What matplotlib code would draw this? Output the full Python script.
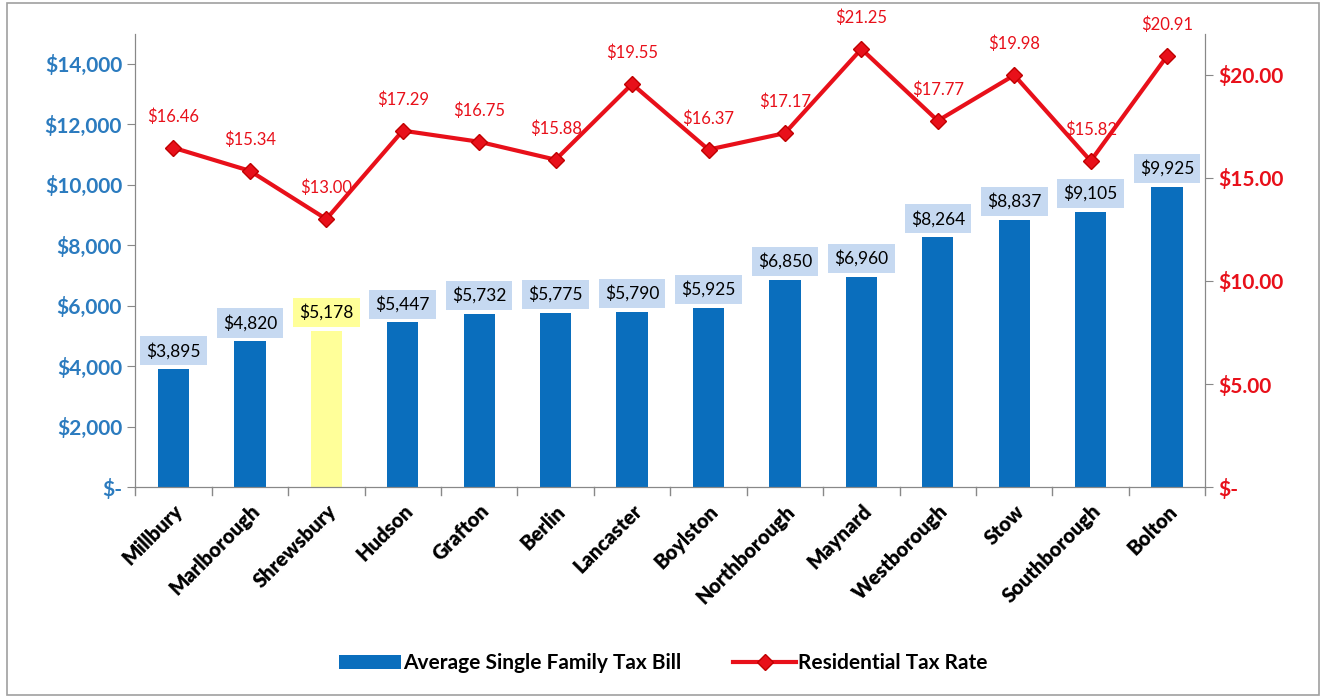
import numpy as np
import matplotlib.pyplot as plt
from matplotlib.ticker import FuncFormatter

plt.rcParams['font.family'] = ['Lato', 'DejaVu Sans']

# Data
towns = ['Millbury', 'Marlborough', 'Shrewsbury', 'Hudson', 'Grafton', 'Berlin',
         'Lancaster', 'Boylston', 'Northborough', 'Maynard', 'Westborough', 'Stow',
         'Southborough', 'Bolton']
tax_bill = [3895, 4820, 5178, 5447, 5732, 5775, 5790, 5925, 6850, 6960, 8264, 8837,
            9105, 9925]
tax_rate = [16.46, 15.34, 13.00, 17.29, 16.75, 15.88, 19.55, 16.37, 17.17, 21.25,
            17.77, 19.98, 15.82, 20.91]
highlight = 'Shrewsbury'

blue = '#0a6ebd'
red = '#e8101a'
label_blue = '#2b7bbf'

fig = plt.figure(figsize=(13.26, 6.98), dpi=100)
# outer border like the original chart area
fig.patches.append(plt.Rectangle((0.005, 0.005), 0.99, 0.99, transform=fig.transFigure,
                                 fill=False, edgecolor='#a0a0a0', linewidth=1.2))
ax = fig.add_axes([0.102, 0.302, 0.807, 0.65])
ax2 = ax.twinx()

x = np.arange(len(towns))
colors = ['#ffff99' if t == highlight else blue for t in towns]
ax.bar(x, tax_bill, width=0.41, color=colors, zorder=2,
       label='Average Single Family Tax Bill')

ax.set_ylim(0, 15000)
ax.set_xlim(-0.5, len(towns) - 0.5)
ax.set_yticks(np.arange(0, 15000, 2000))
ax.yaxis.set_major_formatter(FuncFormatter(
    lambda v, p: '$-' if v == 0 else '${:,.0f}'.format(v)))
ax.set_xticks(x)
ax.set_xticklabels(towns, rotation=45, ha='right', rotation_mode='anchor',
                   fontsize=14.5, fontweight='heavy')
ax.tick_params(axis='y', labelsize=15, labelcolor=label_blue, length=6, color='#888888')
ax.tick_params(axis='x', length=0, pad=10)
for lbl in ax.get_yticklabels():
    lbl.set_fontweight('bold')

for i, v in enumerate(tax_bill):
    fc = '#ffff99' if towns[i] == highlight else '#c6d9f1'
    ax.text(i, v + 330, '${:,.0f}'.format(v), ha='center', va='bottom', fontsize=12.5,
            color='black', zorder=3,
            bbox=dict(boxstyle='square,pad=0.35', facecolor=fc, edgecolor='none'))

ax2.plot(x, tax_rate, color=red, linewidth=3, marker='D', markersize=8,
         markerfacecolor=red, markeredgecolor='#c00000', zorder=4,
         label='Residential Tax Rate')
ax2.set_ylim(0, 22)
ax2.set_yticks(np.arange(0, 21, 5))
ax2.yaxis.set_major_formatter(FuncFormatter(
    lambda v, p: '$-' if v == 0 else '${:,.2f}'.format(v)))
ax2.tick_params(axis='y', labelsize=15, labelcolor=red, length=6, color='#888888')
for lbl in ax2.get_yticklabels():
    lbl.set_fontweight('bold')

for i, v in enumerate(tax_rate):
    ax2.text(i, v + 1.1, '${:.2f}'.format(v), ha='center', va='bottom', fontsize=12,
             color=red)

for a in (ax, ax2):
    a.spines['top'].set_visible(False)
    for s in ('left', 'right', 'bottom'):
        a.spines[s].set_color('#888888')
    a.set_zorder(1)
ax2.set_zorder(2)
ax.patch.set_visible(False)

# category separators on x axis
for xi in np.arange(-0.5, len(towns), 1.0):
    ax.plot([xi, xi], [0, -250], color='#888888', linewidth=1, clip_on=False)

h1, l1 = ax.get_legend_handles_labels()
h2, l2 = ax2.get_legend_handles_labels()
leg = fig.legend(h1 + h2, l1 + l2, loc='center', bbox_to_anchor=(0.5, 0.05), ncol=2,
                 frameon=False, fontsize=15, handlelength=3.0, handletextpad=0.1,
                 columnspacing=2.5)
for t in leg.get_texts():
    t.set_fontweight('bold')

fig.savefig('out.png', dpi=100)
